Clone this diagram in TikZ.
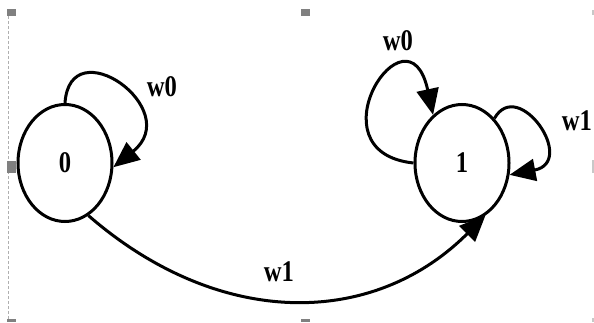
\documentclass[tikz,border=0pt]{standalone}
\usepackage{fontspec}
\setmainfont{Liberation Serif}
\newfontfamily\lblfont[FakeStretch=0.82]{Liberation Serif}
\usepackage{tikz}
\usetikzlibrary{arrows.meta,shapes.geometric}
\definecolor{handle}{RGB}{128,128,128}
\definecolor{handlesoft}{RGB}{200,200,200}
\definecolor{frameline}{RGB}{175,175,175}
\tikzset{
  snode/.style={ellipse, draw, line width=3pt, minimum width=94pt,
                minimum height=117pt, inner sep=0pt,
                font=\lblfont\bfseries\fontsize{30}{30}\selectfont},
  tedge/.style={line width=3pt, -{Triangle[length=26pt,width=22pt]}},
  tlabel/.style={font=\lblfont\bfseries\fontsize{30}{30}\selectfont, inner sep=0pt},
}

\begin{document}
\begin{tikzpicture}[x=1pt,y=1pt]
  \useasboundingbox (0,0) rectangle (594,322);
  % secim cercevesi ve tutamaclar
  \draw[frameline, line width=1pt, dash pattern=on 3pt off 2pt] (8,306) -- (8,0);
  \foreach \hx in {7,301}{
    \fill[handle] (\hx,306) rectangle ++(9,7);
    \fill[handle] (\hx,0) rectangle ++(9,3);
  }
  \fill[handle] (7,149) rectangle ++(9,12);
  \foreach \hy/\hh in {307/5,149/13,0/4}
    \fill[handlesoft] (592,\hy) rectangle ++(2,\hh);
  % durumlar
  \node[snode] (s0) at (65,159) {0};
  \node[snode] (s1) at (462,159) {1};
  % gecisler
  \draw[tedge] (s0.90) .. controls +(5,75) and +(72,58) .. (s0.-5);
  \draw[tedge] (s1.180) .. controls +(-105,11) and +(-25,116) .. (s1.121);
  \draw[tedge] (s1.54) .. controls +(24,42) and +(68,13) .. (s1.-14);
  \draw[tedge] (s0.-66) .. controls +(130,-113) and +(-113,-113) .. (s1.-66);
  % etiketler
  \node[tlabel] (w0a) at (162,235) {w0};
  \node[tlabel] (w0b) at (398,281) {w0};
  \node[tlabel] (w1a) at (577,201) {w1};
  \node[tlabel] (w1b) at (279,50) {w1};
\end{tikzpicture}
\end{document}
